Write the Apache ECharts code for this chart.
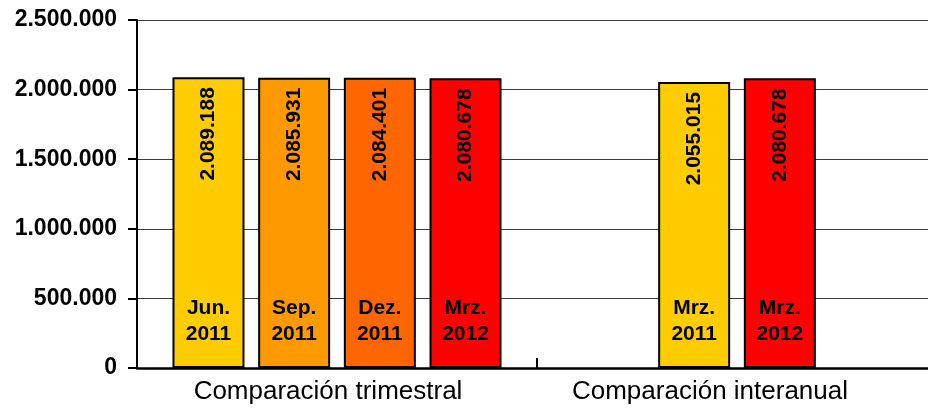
<!DOCTYPE html>
<html>
<head>
<meta charset="utf-8">
<script src="https://cdn.jsdelivr.net/npm/echarts@6/dist/echarts.min.js"></script>
<style>
html, body { margin: 0; padding: 0; background: #fff; overflow: hidden; }
#chart { width: 938px; height: 408px; }
</style>
</head>
<body>
<div id="chart"></div>
<script>
// 数据
var categories = ['Comparación trimestral', 'Comparación interanual'];
// each row = one bar slot across the two groups
var slotValues = [
    [2089188, null],
    [2085931, 2055015],
    [2084401, 2080678],
    [2080678, null]
];
var slotLabels = [
    ['Jun.\n2011', null],
    ['Sep.\n2011', 'Mrz.\n2011'],
    ['Dez.\n2011', 'Mrz.\n2012'],
    ['Mrz.\n2012', null]
];
var yTicks = [0, 500000, 1000000, 1500000, 2000000, 2500000];

var slotColors = [
    ['#FFCC00', null],
    ['#FF9900', '#FFCC00'],
    ['#FF6600', '#FF0000'],
    ['#FF0000', null]
];

function fmt(v) {
    return String(v).replace(/\B(?=(\d{3})+(?!\d))/g, '.');
}

var myChart = echarts.init(document.getElementById('chart'));
var barW = 72;
var gap = '19%';
var series = [];

// real bars with the rotated value label
slotValues.forEach(function (row, i) {
    series.push({
        type: 'bar',
        xAxisIndex: 0,
        barWidth: barW,
        barGap: gap,
        data: row.map(function (v, j) {
            return v == null ? null : {
                value: v,
                itemStyle: { color: slotColors[i][j] }
            };
        }),
        itemStyle: { borderColor: '#000', borderWidth: 2 },
        label: {
            show: true,
            position: 'insideTop',
            rotate: 90,
            align: 'right',
            verticalAlign: 'middle',
            distance: 10,
            color: '#000',
            fontFamily: 'Liberation Sans',
            fontWeight: 'bold',
            fontSize: 21,
            formatter: function (p) { return fmt(p.value); }
        },
        z: 2
    });
});

// transparent overlay carrying the date labels
slotValues.forEach(function (row, i) {
    series.push({
        type: 'bar',
        xAxisIndex: 1,
        barWidth: barW,
        barGap: gap,
        silent: true,
        data: row.map(function (v, j) {
            return v == null ? null : { value: v, name: slotLabels[i][j] };
        }),
        itemStyle: { color: 'rgba(0,0,0,0)' },
        label: {
            show: true,
            position: 'insideBottom',
            distance: 21,
            color: '#000',
            fontFamily: 'Liberation Sans',
            fontWeight: 'bold',
            fontSize: 21,
            lineHeight: 26,
            formatter: function (p) { return slotLabels[i][p.dataIndex]; }
        },
        z: 3
    });
});

var option = {
    animation: false,
    grid: { left: 137, right: 1, top: 20, bottom: 40 },
    xAxis: [{
        type: 'category',
        data: categories,
        axisLine: { lineStyle: { color: '#000', width: 2.5 } },
        axisTick: { show: true, inside: true, interval: 0, length: 10, lineStyle: { color: '#000', width: 2 } },
        axisLabel: {
            interval: 0,
            color: '#000',
            fontFamily: 'Liberation Sans',
            fontSize: 26,
            margin: 11,
            formatter: function (v, idx) {
                return (idx === 0 ? '{a|' : '{b|') + v + '}';
            },
            rich: {
                a: { fontSize: 26, fontFamily: 'Liberation Sans', color: '#000', padding: [0, 18, 0, 0] },
                b: { fontSize: 26, fontFamily: 'Liberation Sans', color: '#000', padding: [0, 54, 0, 0] }
            }
        }
    }, {
        type: 'category',
        data: categories,
        show: false
    }],
    yAxis: {
        type: 'value',
        min: 0,
        max: yTicks[yTicks.length - 1],
        interval: yTicks[1] - yTicks[0],
        axisLine: { show: true, lineStyle: { color: '#000', width: 2 } },
        axisTick: { show: true, length: 9, lineStyle: { color: '#000', width: 2 } },
        splitLine: { lineStyle: { color: '#3a3a3a', width: 1.2 } },
        axisLabel: {
            color: '#000',
            fontFamily: 'Liberation Sans',
            fontWeight: 'bold',
            fontSize: 23,
            margin: 20,
            formatter: fmt
        }
    },
    series: series
};
myChart.setOption(option);
</script>
</body>
</html>
